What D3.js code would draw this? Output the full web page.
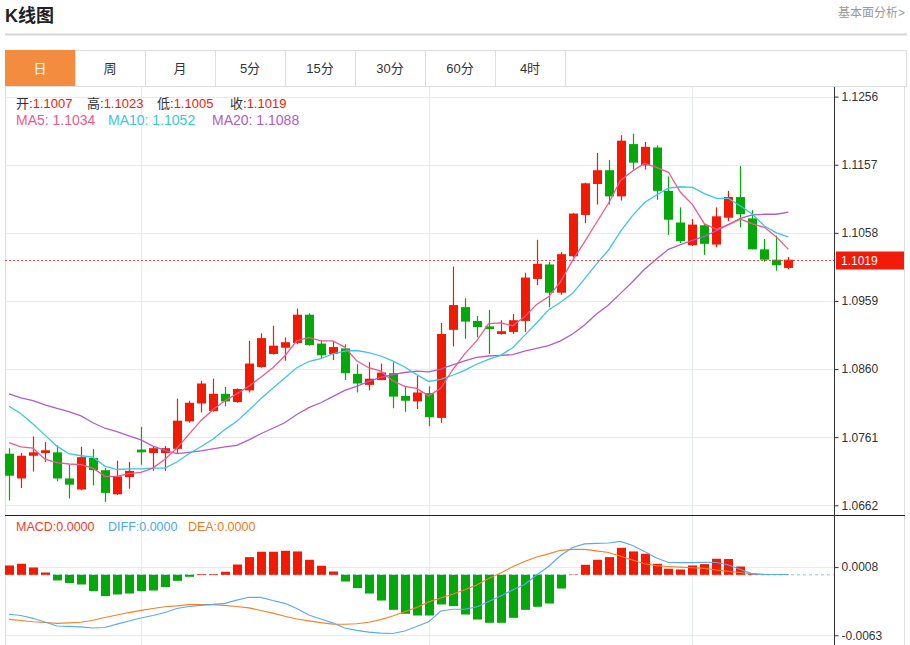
<!DOCTYPE html>
<html>
<head>
<meta charset="utf-8">
<title>K线图</title>
<script src="https://cdnjs.cloudflare.com/ajax/libs/d3/7.8.5/d3.min.js"></script>
<style>
  body { margin: 0; background: #fff; }
  svg { display: block; font-family: "Liberation Sans", Arial, "Noto Sans CJK SC", sans-serif; }
</style>
</head>
<body>
<svg id="chart" width="910" height="645"></svg>
<script>
const tabs = ['日', '周', '月', '5分', '15分', '30分', '60分', '4时'];

// daily candles, oldest first
const open = [1.0737, 1.0701, 1.0734, 1.0738, 1.0739, 1.0701, 1.0685, 1.0731, 1.0713, 1.0678,
  1.0703, 1.0743, 1.0738, 1.0738, 1.0744, 1.0784, 1.0810, 1.0799, 1.0824, 1.0812,
  1.0829, 1.0863, 1.0882, 1.0891, 1.0898, 1.0939, 1.0897, 1.0882, 1.0890, 1.0853,
  1.0837, 1.0844, 1.0854, 1.0821, 1.0813, 1.0825, 1.0789, 1.0917, 1.0950, 1.0930,
  1.0922, 1.0911, 1.0914, 1.0930, 1.0991, 1.1012, 1.0971, 1.1024, 1.1084, 1.1129,
  1.1149, 1.1111, 1.1187, 1.1156, 1.1182, 1.1119, 1.1073, 1.1040, 1.1069, 1.1041,
  1.1080, 1.1110, 1.1079, 1.1034, 1.1019, 1.1007];
const high = [1.0745, 1.0738, 1.0762, 1.0754, 1.0749, 1.0721, 1.0747, 1.0744, 1.0716, 1.0727,
  1.0725, 1.0776, 1.0747, 1.0748, 1.0817, 1.0814, 1.0843, 1.0846, 1.0834, 1.0832,
  1.0901, 1.0912, 1.0923, 1.0906, 1.0948, 1.0941, 1.0902, 1.0901, 1.0896, 1.0867,
  1.0870, 1.0868, 1.0870, 1.0835, 1.0850, 1.0835, 1.0927, 1.1009, 1.0963, 1.0937,
  1.0946, 1.0931, 1.0940, 1.1000, 1.1048, 1.1016, 1.1030, 1.1087, 1.1131, 1.1174,
  1.1164, 1.1200, 1.1202, 1.1190, 1.1185, 1.1140, 1.1095, 1.1078, 1.1071, 1.1095,
  1.1119, 1.1155, 1.1091, 1.1049, 1.1054, 1.1023];
const low = [1.0669, 1.0687, 1.0711, 1.0725, 1.0697, 1.0672, 1.0684, 1.0691, 1.0667, 1.0677,
  1.0686, 1.0721, 1.0712, 1.0712, 1.0738, 1.0782, 1.0797, 1.0798, 1.0806, 1.0811,
  1.0826, 1.0862, 1.0881, 1.0872, 1.0896, 1.0894, 1.0876, 1.0873, 1.0844, 1.0826,
  1.0829, 1.0844, 1.0803, 1.0798, 1.0802, 1.0777, 1.0782, 1.0893, 1.0904, 1.0906,
  1.0882, 1.0910, 1.0911, 1.0914, 1.0982, 1.0950, 1.0968, 1.1022, 1.1072, 1.1099,
  1.1099, 1.1105, 1.1150, 1.1150, 1.1106, 1.1055, 1.1043, 1.1039, 1.1026, 1.1037,
  1.1075, 1.1066, 1.1034, 1.1016, 1.1003, 1.1005];
const close = [1.0705, 1.0734, 1.0739, 1.0742, 1.0701, 1.0692, 1.0732, 1.0713, 1.0680, 1.0704,
  1.0712, 1.0739, 1.0745, 1.0745, 1.0785, 1.0811, 1.0839, 1.0824, 1.0813, 1.0831,
  1.0868, 1.0905, 1.0894, 1.0899, 1.0939, 1.0895, 1.0880, 1.0892, 1.0854, 1.0839,
  1.0846, 1.0855, 1.0820, 1.0814, 1.0826, 1.0790, 1.0911, 1.0953, 1.0929, 1.0921,
  1.0918, 1.0915, 1.0931, 1.0993, 1.1013, 1.0971, 1.1027, 1.1086, 1.1130, 1.1149,
  1.1111, 1.1192, 1.1160, 1.1183, 1.1119, 1.1077, 1.1046, 1.1070, 1.1042, 1.1082,
  1.1110, 1.1085, 1.1034, 1.1019, 1.1011, 1.1019];

const ma5 = [1.0753, 1.0747, 1.0745, 1.0729, 1.0724, 1.0722, 1.0721, 1.0716, 1.0704, 1.0704,
  1.0708, 1.0710, 1.0716, 1.0729, 1.0745, 1.0765, 1.0785, 1.0801, 1.0814, 1.0824,
  1.0835, 1.0848, 1.0862, 1.0879, 1.0901, 1.0906, 1.0901, 1.0901, 1.0892, 1.0872,
  1.0862, 1.0857, 1.0843, 1.0835, 1.0832, 1.0821, 1.0832, 1.0859, 1.0882, 1.0901,
  1.0926, 1.0927, 1.0923, 1.0936, 1.0954, 1.0965, 1.0987, 1.1018, 1.1045, 1.1073,
  1.1101, 1.1134, 1.1148, 1.1159, 1.1153, 1.1146, 1.1117, 1.1099, 1.1071, 1.1063,
  1.1070, 1.1078, 1.1071, 1.1066, 1.1052, 1.1034];
const ma10 = [1.0806, 1.0795, 1.0780, 1.0764, 1.0748, 1.0737, 1.0734, 1.0732, 1.0719, 1.0714,
  1.0715, 1.0715, 1.0716, 1.0716, 1.0725, 1.0737, 1.0747, 1.0758, 1.0772, 1.0784,
  1.0800, 1.0817, 1.0832, 1.0847, 1.0862, 1.0871, 1.0875, 1.0882, 1.0886, 1.0887,
  1.0884, 1.0879, 1.0872, 1.0863, 1.0852, 1.0842, 1.0845, 1.0851, 1.0858, 1.0867,
  1.0874, 1.0880, 1.0891, 1.0909, 1.0927, 1.0946, 1.0957, 1.0970, 1.0991, 1.1013,
  1.1033, 1.1060, 1.1083, 1.1102, 1.1113, 1.1123, 1.1125, 1.1124, 1.1115, 1.1108,
  1.1108, 1.1097, 1.1085, 1.1068, 1.1058, 1.1052];
const ma20 = [1.0824, 1.0818, 1.0814, 1.0808, 1.0803, 1.0798, 1.0792, 1.0782, 1.0774, 1.0769,
  1.0763, 1.0757, 1.0748, 1.0742, 1.0737, 1.0739, 1.0741, 1.0744, 1.0747, 1.0749,
  1.0757, 1.0766, 1.0774, 1.0782, 1.0794, 1.0804, 1.0811, 1.0820, 1.0829, 1.0835,
  1.0842, 1.0848, 1.0852, 1.0855, 1.0857, 1.0856, 1.0860, 1.0866, 1.0872, 1.0877,
  1.0879, 1.0880, 1.0881, 1.0886, 1.0890, 1.0894, 1.0901, 1.0911, 1.0924, 1.0940,
  1.0953, 1.0970, 1.0987, 1.1005, 1.1020, 1.1034, 1.1041, 1.1047, 1.1053, 1.1061,
  1.1070, 1.1079, 1.1084, 1.1085, 1.1085, 1.1088];

const macd = [0.00097, 0.00115, 0.00076, 0.00024, -0.00059, -0.00086, -0.00101, -0.00170, -0.00222, -0.00205,
  -0.00195, -0.00170, -0.00164, -0.00128, -0.00063, -0.00021, 0.00007, 0.00007, 0.00031, 0.00107,
  0.00184, 0.00240, 0.00240, 0.00250, 0.00243, 0.00156, 0.00094, 0.00034, -0.00070, -0.00139,
  -0.00195, -0.00268, -0.00365, -0.00406, -0.00424, -0.00424, -0.00309, -0.00326, -0.00414, -0.00466,
  -0.00500, -0.00500, -0.00448, -0.00365, -0.00333, -0.00299, -0.00143, 0.00003, 0.00104, 0.00156,
  0.00184, 0.00281, 0.00243, 0.00219, 0.00115, 0.00063, 0.00055, 0.00097, 0.00111, 0.00167,
  0.00164, 0.00086, 0.00014, 0.00002, 0, 0];
const diff = [-0.00411, -0.00424, -0.00453, -0.00492, -0.00533, -0.00538, -0.00542, -0.00554, -0.00549, -0.00513,
  -0.00481, -0.00450, -0.00424, -0.00393, -0.00351, -0.00330, -0.00318, -0.00309, -0.00297, -0.00263,
  -0.00234, -0.00236, -0.00268, -0.00297, -0.00351, -0.00419, -0.00460, -0.00500, -0.00554, -0.00578,
  -0.00596, -0.00608, -0.00611, -0.00585, -0.00539, -0.00490, -0.00377, -0.00359, -0.00359, -0.00335,
  -0.00278, -0.00221, -0.00158, -0.00101, -0.00002, 0.00086, 0.00201, 0.00284, 0.00321, 0.00326,
  0.00331, 0.00347, 0.00305, 0.00243, 0.00175, 0.00128, 0.00127, 0.00126, 0.00130, 0.00128,
  0.00102, 0.00055, 0.00010, 0.00003, 0.00003, 0.00003];
const dea = [-0.00464, -0.00476, -0.00489, -0.00497, -0.00505, -0.00500, -0.00494, -0.00473, -0.00445, -0.00419,
  -0.00393, -0.00370, -0.00351, -0.00333, -0.00323, -0.00310, -0.00310, -0.00310, -0.00318, -0.00330,
  -0.00344, -0.00372, -0.00400, -0.00432, -0.00460, -0.00480, -0.00499, -0.00513, -0.00515, -0.00510,
  -0.00494, -0.00466, -0.00429, -0.00385, -0.00341, -0.00282, -0.00242, -0.00203, -0.00156, -0.00106,
  -0.00039, 0.00019, 0.00083, 0.00139, 0.00185, 0.00217, 0.00255, 0.00264, 0.00265, 0.00248,
  0.00232, 0.00193, 0.00154, 0.00115, 0.00095, 0.00086, 0.00079, 0.00073, 0.00066, 0.00050,
  0.00036, 0.00024, 0.00008, 0.00003, 0.00003, 0.00003];

const priceTicks = [1.1256, 1.1157, 1.1058, 1.0959, 1.0860, 1.0761, 1.0662];
const macdTicks = [0.0008, -0.0063];
const monthStarts = [11, 35, 57];

const UP = '#f11a05', DOWN = '#05a80a';
const C5 = '#ef5a8c', C10 = '#3cc6df', C20 = '#b25ccb';
const GRID = '#e4ebf1';

const svg = d3.select('#chart');
const idx = close.map((d, i) => i);
const last = idx.length - 1;

const x = d3.scalePoint().domain(idx).range([9, 788.4]);
const y = d3.scaleLinear().domain([1.0662, 1.1256]).range([505.3, 96.6]);
const ym = d3.scaleLinear().domain([-0.0063, 0.0008]).range([635.3, 567.1]);

// header
svg.append('text').attr('x', 5).attr('y', 22).attr('font-size', 18).attr('font-weight', 'bold')
  .attr('fill', '#222').text('K线图');
svg.append('text').attr('x', 905).attr('y', 17).attr('text-anchor', 'end').attr('font-size', 12)
  .attr('fill', '#999').text('基本面分析>');
svg.append('line').attr('x1', 5).attr('x2', 907).attr('y1', 34.5).attr('y2', 34.5)
  .attr('stroke', '#d6d6d6').attr('stroke-width', 2);

// tabs
svg.append('rect').attr('x', 5.5).attr('y', 50.5).attr('width', 901).attr('height', 36)
  .attr('fill', 'none').attr('stroke', '#dedede');
svg.append('rect').attr('x', 5).attr('y', 50).attr('width', 70).attr('height', 36).attr('fill', '#f38c3e');
const tab = svg.selectAll('.tab').data(tabs).enter().append('g').attr('class', 'tab');
tab.append('line').attr('x1', (d, i) => 75.5 + i * 70).attr('x2', (d, i) => 75.5 + i * 70)
  .attr('y1', 50).attr('y2', 86).attr('stroke', '#dedede');
tab.append('text').attr('x', (d, i) => 40 + i * 70).attr('y', 73).attr('text-anchor', 'middle')
  .attr('font-size', 13).attr('fill', (d, i) => i === 0 ? '#fff' : '#333').text(d => d);

// frame
svg.append('rect').attr('x', 5.5).attr('y', 86.5).attr('width', 899).attr('height', 560)
  .attr('fill', 'none').attr('stroke', '#dedede');

// grid
svg.append('g').selectAll('line').data(priceTicks).enter().append('line')
  .attr('x1', 5).attr('x2', 834).attr('y1', d => Math.round(y(d)) + 0.5).attr('y2', d => Math.round(y(d)) + 0.5)
  .attr('stroke', GRID);
svg.append('g').selectAll('line').data(macdTicks).enter().append('line')
  .attr('x1', 5).attr('x2', 834).attr('y1', d => Math.round(ym(d)) + 0.5).attr('y2', d => Math.round(ym(d)) + 0.5)
  .attr('stroke', GRID);
svg.append('g').selectAll('line').data(monthStarts).enter().append('line')
  .attr('x1', d => Math.round(x(d)) + 0.5).attr('x2', d => Math.round(x(d)) + 0.5)
  .attr('y1', 87).attr('y2', 645).attr('stroke', GRID);

// candles
const candle = svg.append('g').selectAll('g').data(idx).enter().append('g')
  .attr('fill', i => close[i] >= open[i] ? UP : DOWN)
  .attr('stroke', i => close[i] >= open[i] ? UP : DOWN);
candle.append('line').attr('x1', i => Math.round(x(i)) + 0.5).attr('x2', i => Math.round(x(i)) + 0.5)
  .attr('y1', i => y(high[i])).attr('y2', i => y(low[i])).attr('stroke-width', 1.2);
candle.append('rect').attr('stroke', 'none')
  .attr('x', i => Math.round(x(i)) - 4).attr('width', 9)
  .attr('y', i => y(Math.max(open[i], close[i])))
  .attr('height', i => Math.max(1.5, Math.abs(y(open[i]) - y(close[i]))));

// moving averages
const maLine = d3.line().x((d, i) => x(i)).y(d => y(d));
[[ma20, C20], [ma10, C10], [ma5, C5]].forEach(([s, c]) => {
  svg.append('path').attr('d', maLine(s)).attr('fill', 'none').attr('stroke', c).attr('stroke-width', 1.3);
});

// last price
const lastY = Math.round(y(close[last])) + 0.5;
svg.append('line').attr('x1', 5).attr('x2', 834).attr('y1', lastY).attr('y2', lastY)
  .attr('stroke', '#ee4444').attr('stroke-dasharray', '2,2');

// MACD
svg.append('line').attr('x1', 5).attr('x2', 834).attr('y1', ym(0)).attr('y2', ym(0))
  .attr('stroke', '#aedaea').attr('stroke-width', 1.5).attr('stroke-dasharray', '3,3');
svg.append('g').selectAll('rect').data(idx).enter().append('rect')
  .attr('x', i => Math.round(x(i)) - 4).attr('width', 9)
  .attr('y', i => Math.min(ym(0), ym(macd[i])))
  .attr('height', i => Math.abs(ym(macd[i]) - ym(0)))
  .attr('fill', i => macd[i] >= 0 ? UP : DOWN);
const mLine = d3.line().x((d, i) => x(i)).y(d => ym(d));
svg.append('path').attr('d', mLine(dea)).attr('fill', 'none').attr('stroke', '#f5822a').attr('stroke-width', 1.2);
svg.append('path').attr('d', mLine(diff)).attr('fill', 'none').attr('stroke', '#5aaaf0').attr('stroke-width', 1.2);

// separator and axis line
svg.append('line').attr('x1', 5).attr('x2', 905).attr('y1', 515.5).attr('y2', 515.5).attr('stroke', '#222');
svg.append('line').attr('x1', 834.5).attr('x2', 834.5).attr('y1', 87).attr('y2', 645).attr('stroke', '#333');

const fmt = d => d.toFixed(4);
const yAxis = svg.append('g').attr('transform', 'translate(834.5,0)')
  .call(d3.axisRight(y).tickValues(priceTicks).tickSize(4).tickFormat(fmt));
const mAxis = svg.append('g').attr('transform', 'translate(834.5,0)')
  .call(d3.axisRight(ym).tickValues(macdTicks).tickSize(4).tickFormat(fmt));
[yAxis, mAxis].forEach(a => {
  a.select('.domain').remove();
  a.selectAll('text').attr('font-size', 12).attr('fill', '#333').attr('font-family', '"Liberation Sans", Arial, sans-serif');
  a.selectAll('line').attr('stroke', '#333');
});

svg.append('rect').attr('x', 836).attr('y', lastY - 9).attr('width', 68).attr('height', 18).attr('fill', '#f21a08');
svg.append('text').attr('x', 841).attr('y', lastY + 4.5).attr('font-size', 12).attr('fill', '#fff').text(fmt(close[last]));

// legends
const leg1 = svg.append('g').attr('font-size', 13);
[['开:', open[last], 16], ['高:', high[last], 87], ['低:', low[last], 157], ['收:', close[last], 230]].forEach(([k, v, lx]) => {
  const t = leg1.append('text').attr('x', lx).attr('y', 108);
  t.append('tspan').attr('fill', '#333').text(k);
  t.append('tspan').attr('fill', '#f11a05').text(fmt(v));
});
const leg2 = svg.append('g').attr('font-size', 14);
[['MA5: ', ma5[last], C5, 16], ['MA10: ', ma10[last], C10, 108], ['MA20: ', ma20[last], C20, 212]].forEach(([k, v, c, lx]) => {
  leg2.append('text').attr('x', lx).attr('y', 125).attr('fill', c).text(k + fmt(v));
});
const leg3 = svg.append('g').attr('font-size', 12.5);
[['MACD:', '#f23a2a', 16], ['DIFF:', '#4aa8f0', 108], ['DEA:', '#f0781e', 188]].forEach(([k, c, lx]) => {
  leg3.append('text').attr('x', lx).attr('y', 531).attr('fill', c).text(k + '0.0000');
});
</script>
</body>
</html>
